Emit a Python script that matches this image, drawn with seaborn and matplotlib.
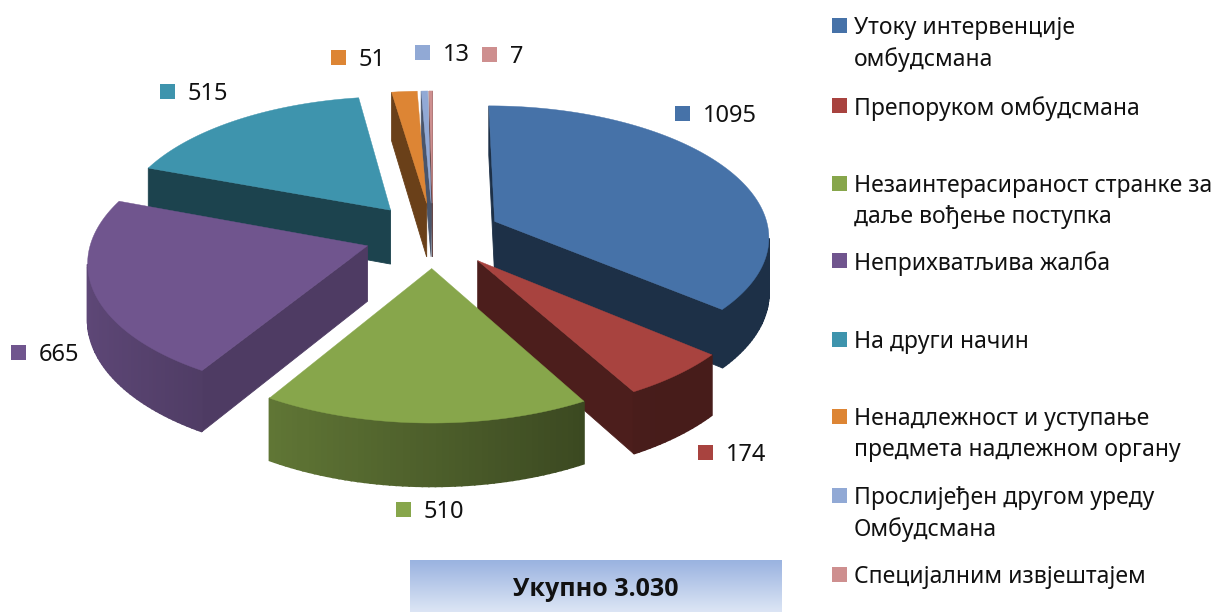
import numpy as np
import matplotlib
matplotlib.use("Agg")
import matplotlib.pyplot as plt
import seaborn as sns

categories = ["Утоку интервенције\nомбудсмана", "Препоруком омбудсмана",
              "Незаинтерасираност странке за\nдаље вођење поступка", "Неприхватљива жалба",
              "На други начин", "Ненадлежност и уступање\nпредмета надлежном органу",
              "Прослијеђен другом уреду\nОмбудсмана", "Специјалним извјештајем"]
values = [1095, 174, 510, 665, 515, 51, 13, 7]
total_label = "Укупно 3.030"

# style
top_colors = ["#4672A8", "#A8433F", "#87A64B", "#70558E", "#3E94AD", "#DD8534", "#91A9D5", "#CE8F8F"]
face_shade = [0.42, 0.45, 0.6, 0.7, 0.45, 0.48, 0.5, 0.5]
label_sq = [(675, 106), (698, 445), (396, 502), (11, 345), (160, 84), (331, 50), (415, 45), (482, 47)]
legend_y = [26, 106, 184, 261, 340, 417, 496, 575]
CX, CY, RX, RY, K, EXPL, DEPTH = 433, 235, 275, 130.5, 0.106, 0.25, 55

sns.set_theme(style="white")
plt.rcParams['font.family'] = ['Noto Sans', 'DejaVu Sans']
palette = sns.color_palette(top_colors)

fig = plt.figure(figsize=(12.14, 6.12), dpi=100)
ax = fig.add_axes([0, 0, 1, 1])


def project(u, v):
    s = 1 / (1 + K * v)
    return CX + RX * u * s, CY - RY * v * s, DEPTH * s


def shade(c, f):
    return tuple(np.clip(np.array(c) * f, 0, 1))


def quad(p, q, color, z, lw=0.6):
    ax.fill([p[0], q[0], q[0], p[0]], [p[1], q[1], q[1] + q[2], p[1] + p[2]],
            color=color, lw=lw, zorder=z)


arr = np.array(values, dtype=float)
edges = np.concatenate([[0], np.cumsum(arr)]) / arr.sum() * 2 * np.pi
mids = (edges[:-1] + edges[1:]) / 2
order = np.argsort(-np.cos(mids))
for rank, i in enumerate(order):
    z = 2 + rank
    t = np.linspace(edges[i], edges[i + 1], max(4, int((edges[i + 1] - edges[i]) * 50)))
    ou, ov = EXPL * np.sin(mids[i]), EXPL * np.cos(mids[i])
    apex = project(ou, ov)
    arc = [project(ou + np.sin(a), ov + np.cos(a)) for a in t]
    col = palette[i]
    # radial faces
    if arc[0][0] < apex[0]:
        quad(apex, arc[0], shade(col, face_shade[i]), z)
    if apex[0] < arc[-1][0]:
        quad(arc[-1], apex, shade(col, face_shade[i]), z)
    # outer curved wall, shaded left to right
    for j in range(len(arc) - 1):
        if arc[j + 1][0] < arc[j][0]:
            u = np.sin((t[j] + t[j + 1]) / 2)
            quad(arc[j], arc[j + 1], shade(col, max(0.42, 0.57 - 0.27 * u)), z, lw=1.2)
    # top surface
    ax.fill([apex[0]] + [p[0] for p in arc], [apex[1]] + [p[1] for p in arc],
            color=col, lw=0.3, zorder=z + 0.5)

# value labels
for (x, y), c, val in zip(label_sq, palette, values):
    ax.fill([x, x + 15, x + 15, x], [y, y, y + 15, y + 15], color=c, lw=0, zorder=20)
    ax.text(x + 28, y + 10, str(val), fontsize=17, color="#111111", va="center", ha="left", zorder=20)

# legend
for y, c, name in zip(legend_y, palette, categories):
    ax.fill([832, 847, 847, 832], [y - 8, y - 8, y + 7, y + 7], color=c, lw=0, zorder=20)
    ax.text(854, y - 10, name, fontsize=16.5, color="#111111", va="top", ha="left",
            linespacing=1.4, zorder=20)

# total box
grad = np.linspace(0, 1, 64).reshape(-1, 1)
cmap = matplotlib.colors.LinearSegmentedColormap.from_list("box", ["#9AB3E0", "#DCE5F5"])
ax.imshow(grad, extent=(410, 782, 612, 560), cmap=cmap, aspect="auto", zorder=1)
ax.text(596, 590, total_label, fontsize=18, fontweight="bold", family=["Open Sans", "DejaVu Sans"],
        color="#111111", ha="center", va="center", zorder=20)

ax.set_xlim(0, 1214)
ax.set_ylim(612, 0)
ax.axis("off")
fig.savefig("out.png", dpi=100, facecolor="white")
